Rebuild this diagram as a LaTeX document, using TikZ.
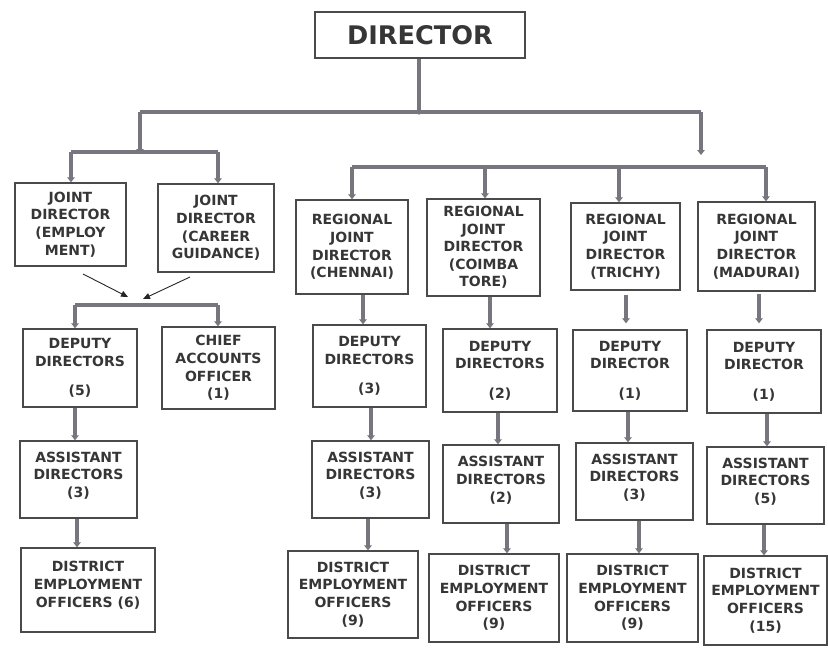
\documentclass[tikz,border=0pt]{standalone}
\usepackage{fontspec}
\setmainfont{DejaVu Sans}
\usetikzlibrary{arrows.meta}
\definecolor{boxline}{HTML}{4A4A4A}
\definecolor{conncol}{HTML}{77767E}
\definecolor{txtcol}{HTML}{363636}
\begin{document}
\begin{tikzpicture}[x=1pt,y=-1pt,
  orgbox/.style={draw=boxline, line width=1.4pt, rectangle, align=center,
    text=txtcol, inner sep=0pt,
    font=\fontsize{14}{17.6}\selectfont\bfseries},
  conn/.style={draw=conncol, line width=3.6pt,
    -{Triangle[width=7.5pt,length=5pt]}},
  connline/.style={draw=conncol, line width=3.6pt},
  thinarrow/.style={draw=black!85, line width=0.9pt,
    -{Triangle[width=6pt,length=7pt]}}
]
\useasboundingbox (0,0) rectangle (828,657);
\fill[white] (0,0) rectangle (828,657);

% top
\node[orgbox, minimum width=210pt, minimum height=46pt,
  font=\fontsize{25.6}{30}\selectfont\bfseries] (dir) at (420,35) {DIRECTOR};

% joint directors
\node[orgbox, minimum width=111pt, minimum height=83pt] (jde) at (70.5,224.5) {JOINT\\DIRECTOR\\(EMPLOY\\MENT)};
\node[orgbox, minimum width=116pt, minimum height=88pt] (jdc) at (216,228) {JOINT\\DIRECTOR\\(CAREER\\GUIDANCE)};

% regional joint directors
\node[orgbox, minimum width=112pt, minimum height=94pt] (rjc) at (352,247) {REGIONAL\\JOINT\\DIRECTOR\\(CHENNAI)};
\node[orgbox, minimum width=113pt, minimum height=97pt] (rjk) at (483.5,247.5) {REGIONAL\\JOINT\\DIRECTOR\\(COIMBA\\TORE)};
\node[orgbox, minimum width=109pt, minimum height=87pt] (rjt) at (625.5,246.5) {REGIONAL\\JOINT\\DIRECTOR\\(TRICHY)};
\node[orgbox, minimum width=117pt, minimum height=89pt] (rjm) at (756.5,246.5) {REGIONAL\\JOINT\\DIRECTOR\\(MADURAI)};

% deputy level
\node[orgbox, minimum width=114pt, minimum height=78pt] (dd5) at (80,368) {DEPUTY\\DIRECTORS\\[12pt](5)};
\node[orgbox, minimum width=113pt, minimum height=82pt] (cao) at (218.5,368) {CHIEF\\ACCOUNTS\\OFFICER\\(1)};
\node[orgbox, minimum width=113pt, minimum height=82pt] (ddc) at (369.5,366) {DEPUTY\\DIRECTORS\\[12pt](3)};
\node[orgbox, minimum width=114pt, minimum height=83pt] (ddk) at (500,370.5) {DEPUTY\\DIRECTORS\\[12pt](2)};
\node[orgbox, minimum width=114pt, minimum height=81pt] (ddt) at (630,370.5) {DEPUTY\\DIRECTOR\\[12pt](1)};
\node[orgbox, minimum width=114pt, minimum height=83pt] (ddm) at (764,371.5) {DEPUTY\\DIRECTOR\\[12pt](1)};

% assistant directors
\node[orgbox, minimum width=117pt, minimum height=77pt] (ad3) at (78.5,479.5) {ASSISTANT\\DIRECTORS\\(3)\\[-8pt]\mbox{}};
\node[orgbox, minimum width=117pt, minimum height=77pt] (adc) at (370.5,479.5) {ASSISTANT\\DIRECTORS\\(3)\\[-8pt]\mbox{}};
\node[orgbox, minimum width=116pt, minimum height=78pt] (adk) at (501,484) {ASSISTANT\\DIRECTORS\\(2)\\[-8pt]\mbox{}};
\node[orgbox, minimum width=117pt, minimum height=77pt] (adt) at (634.5,481.5) {ASSISTANT\\DIRECTORS\\(3)\\[-8pt]\mbox{}};
\node[orgbox, minimum width=117pt, minimum height=77pt] (adm) at (765.5,485.5) {ASSISTANT\\DIRECTORS\\(5)\\[-8pt]\mbox{}};

% district employment officers
\node[orgbox, minimum width=134pt, minimum height=84pt] (deo6) at (88,590) {DISTRICT\\EMPLOYMENT\\OFFICERS (6)\\[-6pt]\mbox{}};
\node[orgbox, minimum width=130pt, minimum height=87pt] (deoc) at (353,594.5) {DISTRICT\\EMPLOYMENT\\OFFICERS\\(9)};
\node[orgbox, minimum width=130pt, minimum height=88pt] (deok) at (494,598) {DISTRICT\\EMPLOYMENT\\OFFICERS\\(9)};
\node[orgbox, minimum width=131pt, minimum height=88pt] (deot) at (632.5,598) {DISTRICT\\EMPLOYMENT\\OFFICERS\\(9)};
\node[orgbox, minimum width=123pt, minimum height=89pt] (deom) at (765.5,600.5) {DISTRICT\\EMPLOYMENT\\OFFICERS\\(15)};

% junction coordinates
\coordinate (j1) at (419,112);
\coordinate (j1l) at (140,112);
\coordinate (j1r) at (701,112);
\coordinate (j2l) at (140,152);
\coordinate (j2la) at (71,152);
\coordinate (j2lb) at (218,152);
\coordinate (j2r) at (701,155);
\coordinate (j3a) at (352,167);
\coordinate (j3b) at (766,167);
\coordinate (m1) at (128,297);
\coordinate (m2) at (143,299);
\coordinate (j4a) at (75,305);
\coordinate (j4b) at (218,305);

% top connectors
\draw[conn] (419,0 |- dir.south) -- ([yshift=-3pt]j1);
\draw[connline] (j1l) -- (j1r);
\draw[conn] (j1l) -- ([yshift=-2pt]j2l);
\draw[conn] (j1r) -- (j2r);
\draw[connline] (j2la) -- (j2lb);
\draw[conn] (j2la) -- (71,0 |- jde.north);
\draw[conn] (j2lb) -- (218,0 |- jdc.north);
\draw[connline] (j3a) -- (j3b);
\draw[conn] (j3a) -- (352,0 |- rjc.north);
\draw[conn] (485,167) -- (485,0 |- rjk.north);
\draw[conn] (619,167) -- (619,0 |- rjt.north);
\draw[conn] (j3b) -- (766,0 |- rjm.north);

% joint directors to deputy level
\draw[thinarrow] (83,274) -- (m1);
\draw[thinarrow] (190,277) -- (m2);
\draw[connline] (j4a) -- (j4b);
\draw[conn] (j4a) -- (75,0 |- dd5.north);
\draw[conn] (j4b) -- (218,0 |- cao.north);

% regional to deputy
\draw[conn] (363,0 |- rjc.south) -- (363,0 |- ddc.north);
\draw[conn] (490,0 |- rjk.south) -- (490,0 |- ddk.north);
\draw[conn, shorten <=4pt, shorten >=6pt] (626,0 |- rjt.south) -- (626,0 |- ddt.north);
\draw[conn, shorten <=2pt, shorten >=6pt] (759,0 |- rjm.south) -- (759,0 |- ddm.north);

% deputy to assistant
\draw[conn] (75,0 |- dd5.south) -- (75,0 |- ad3.north);
\draw[conn] (371,0 |- ddc.south) -- (371,0 |- adc.north);
\draw[conn] (498,0 |- ddk.south) -- (498,0 |- adk.north);
\draw[conn] (628,0 |- ddt.south) -- (628,0 |- adt.north);
\draw[conn] (767,0 |- ddm.south) -- (767,0 |- adm.north);

% assistant to district
\draw[conn] (77,0 |- ad3.south) -- (77,0 |- deo6.north);
\draw[conn] (368,0 |- adc.south) -- (368,0 |- deoc.north);
\draw[conn] (507,0 |- adk.south) -- (507,0 |- deok.north);
\draw[conn] (639,0 |- adt.south) -- (639,0 |- deot.north);
\draw[conn] (764,0 |- adm.south) -- (764,0 |- deom.north);
\end{tikzpicture}
\end{document}
